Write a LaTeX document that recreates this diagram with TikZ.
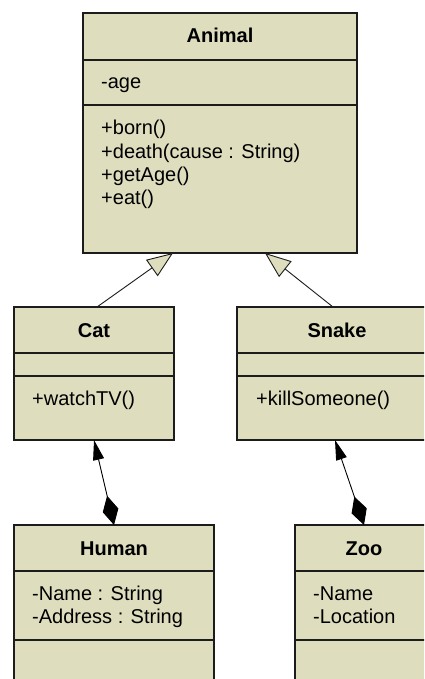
\documentclass[tikz,border=0pt]{standalone}
\usepackage{fontspec}
\setmainfont{Liberation Sans}
\usetikzlibrary{arrows.meta}
\definecolor{umlfill}{RGB}{222,221,190}
\definecolor{umlline}{RGB}{28,28,28}
\begin{document}
\begin{tikzpicture}[x=1pt,y=-1pt,
  classbox/.style={draw=umlline, line width=1.3pt, fill=umlfill, anchor=north west,
    inner sep=0pt, outer sep=0pt},
  sepline/.style={draw=umlline, line width=1.3pt},
  classname/.style={font=\fontsize{20}{23}\selectfont\bfseries, anchor=base, inner sep=0pt},
  member/.style={font=\fontsize{20}{23}\selectfont, anchor=base west, inner sep=0pt},
  inherits/.style={draw=umlline, line width=0.9pt,
    -{Triangle[length=26pt,width=20pt,fill=umlfill,line width=0.9pt]}},
  composed/.style={draw=black, line width=0.9pt,
    {Diamond[length=30pt,width=16pt]}-{Triangle[length=20pt,width=11pt]}}
]
\useasboundingbox (0,0) rectangle (424,679);
\clip (0,0) rectangle (424,679);

% Animal
\node[classbox, minimum width=274pt, minimum height=240pt] (animal) at (83,13) {};
\draw[sepline] ([yshift=-47pt]animal.north west) -- ([yshift=-47pt]animal.north east);
\draw[sepline] ([yshift=-92pt]animal.north west) -- ([yshift=-92pt]animal.north east);
\node[classname] (animal-name) at (220,43) {Animal};
\node[member] (animal-a1) at (101,89) {-age};
\node[member] (animal-m1) at (101,135) {+born()};
\node[member] (animal-m2) at (101,158) {+death(cause : String)};
\node[member] (animal-m3) at (101,181) {+getAge()};
\node[member] (animal-m4) at (101,204) {+eat()};

% Cat
\node[classbox, minimum width=160pt, minimum height=133pt] (cat) at (14,307) {};
\draw[sepline] ([yshift=-46pt]cat.north west) -- ([yshift=-46pt]cat.north east);
\draw[sepline] ([yshift=-69pt]cat.north west) -- ([yshift=-69pt]cat.north east);
\node[classname] (cat-name) at (94,337) {Cat};
\node[member] (cat-m1) at (32,405) {+watchTV()};

% Snake
\node[classbox, minimum width=200pt, minimum height=133pt] (snake) at (237,307) {};
\draw[sepline] ([yshift=-46pt]snake.north west) -- ([yshift=-46pt]snake.north east);
\draw[sepline] ([yshift=-69pt]snake.north west) -- ([yshift=-69pt]snake.north east);
\node[classname] (snake-name) at (337,337) {Snake};
\node[member] (snake-m1) at (256,405) {+killSomeone()};

% Human
\node[classbox, minimum width=200pt, minimum height=180pt] (human) at (14,525) {};
\draw[sepline] ([yshift=-46pt]human.north west) -- ([yshift=-46pt]human.north east);
\draw[sepline] ([yshift=-115pt]human.north west) -- ([yshift=-115pt]human.north east);
\node[classname] (human-name) at (114,555) {Human};
\node[member] (human-a1) at (32,600) {-Name : String};
\node[member] (human-a2) at (32,623) {-Address : String};

% Zoo
\node[classbox, minimum width=138pt, minimum height=180pt] (zoo) at (295,525) {};
\draw[sepline] ([yshift=-46pt]zoo.north west) -- ([yshift=-46pt]zoo.north east);
\draw[sepline] ([yshift=-115pt]zoo.north west) -- ([yshift=-115pt]zoo.north east);
\node[classname] (zoo-name) at (364,555) {Zoo};
\node[member] (zoo-a1) at (313,600) {-Name};
\node[member] (zoo-a2) at (313,623) {-Location};

% Generalizations
\draw[inherits] ([xshift=3pt]cat.north) -- ([xshift=-47pt]animal.south);
\draw[inherits] ([xshift=-4pt]snake.north) -- ([xshift=45pt]animal.south);

% Compositions
\draw[composed] (human.north) -- (cat.south);
\draw[composed] (zoo.north) -- ([xshift=-2pt]snake.south);
\end{tikzpicture}
\end{document}
